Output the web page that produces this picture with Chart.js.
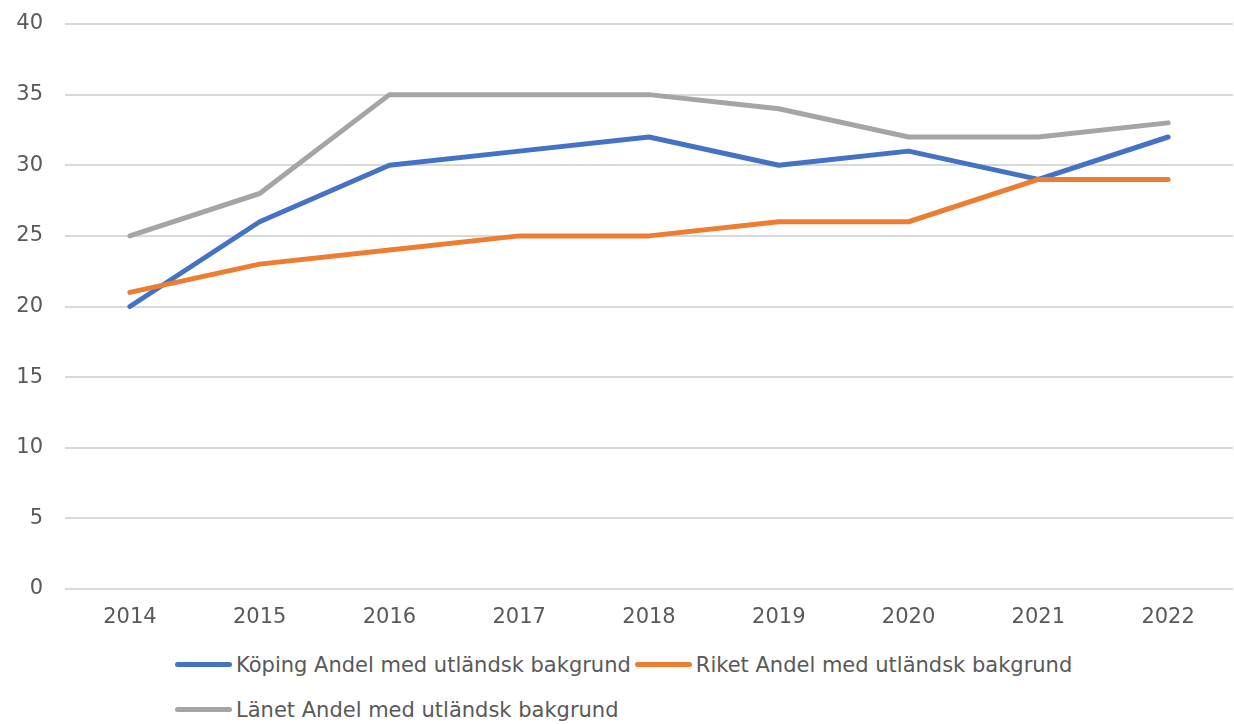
<!DOCTYPE html>
<html>
<head>
<meta charset="utf-8">
<script src="https://cdn.jsdelivr.net/npm/chart.js@4"></script>
<style>
  html, body { margin: 0; padding: 0; background: #fff; overflow: hidden; }
  #wrap { position: relative; width: 1234px; height: 640px; }
  #legend {
    position: absolute; left: 175px; top: 642px; width: 960px;
    font-family: "DejaVu Sans", sans-serif; font-size: 21px; color: #595959;
    display: flex; flex-wrap: wrap;
  }
  #legend .item { display: flex; align-items: center; height: 45px; margin-right: 4px; white-space: nowrap; }
  #legend .swatch { width: 57px; height: 5px; border-radius: 3px; margin-right: 4px; }
</style>
</head>
<body>
<div id="wrap"><canvas id="chart" width="1234" height="640"></canvas></div>
<div id="legend"></div>
<script>
// Years on the x-axis
const years = ['2014', '2015', '2016', '2017', '2018', '2019', '2020', '2021', '2022'];

// Share with foreign background (%)
const koping = [20, 26, 30, 31, 32, 30, 31, 29, 32];
const riket = [21, 23, 24, 25, 25, 26, 26, 29, 29];
const lanet = [25, 28, 35, 35, 35, 34, 32, 32, 33];

const seriesNames = [
    'Köping Andel med utländsk bakgrund',
    'Riket Andel med utländsk bakgrund',
    'Länet Andel med utländsk bakgrund',
];
const seriesColors = ['#4472C4', '#ED7D31', '#A5A5A5'];

const textColor = '#595959';
const fontFamily = '"DejaVu Sans", sans-serif';

function lineSet(i, values, order) {
    return {
        label: seriesNames[i],
        data: values,
        borderColor: seriesColors[i],
        backgroundColor: seriesColors[i],
        borderWidth: 5,
        borderCapStyle: 'round',
        borderJoinStyle: 'round',
        pointRadius: 0,
        pointHoverRadius: 0,
        tension: 0,
        fill: false,
        order: order, // later series drawn on top
    };
}

const ctx = document.getElementById('chart').getContext('2d');
const chart = new Chart(ctx, {
    type: 'line',
    data: {
        labels: years,
        datasets: [
            lineSet(0, koping, 2),
            lineSet(1, riket, 1),
            lineSet(2, lanet, 0),
        ],
    },
    options: {
        responsive: false,
        animation: false,
        layout: {
            padding: { left: 16, right: 1, top: 24, bottom: 1 },
        },
        plugins: {
            legend: { display: false },
            tooltip: { enabled: false },
        },
        scales: {
            x: {
                offset: true,
                grid: { display: false },
                border: { display: false },
                ticks: {
                    color: textColor,
                    padding: 8,
                    font: { family: fontFamily, size: 21 },
                },
                afterFit: (scale) => { scale.height = 50; },
            },
            y: {
                min: 0,
                max: 40,
                grid: { color: '#D9D9D9', lineWidth: 2, drawTicks: false },
                border: { display: false },
                ticks: {
                    stepSize: 5,
                    color: textColor,
                    padding: 22,
                    font: { family: fontFamily, size: 21 },
                },
                afterFit: (scale) => {
                    // fixed axis width; label gap should not push the plot down
                    scale.width = 49;
                    scale.paddingTop = 0;
                    scale.paddingBottom = 0;
                },
            },
        },
    },
});

// HTML legend built from the datasets, in series order
const legendEl = document.getElementById('legend');
chart.data.datasets.forEach((ds) => {
    const item = document.createElement('div');
    item.className = 'item';
    const sw = document.createElement('span');
    sw.className = 'swatch';
    sw.style.background = ds.borderColor;
    const txt = document.createElement('span');
    txt.textContent = ds.label;
    item.appendChild(sw);
    item.appendChild(txt);
    legendEl.appendChild(item);
});
</script>
</body>
</html>
